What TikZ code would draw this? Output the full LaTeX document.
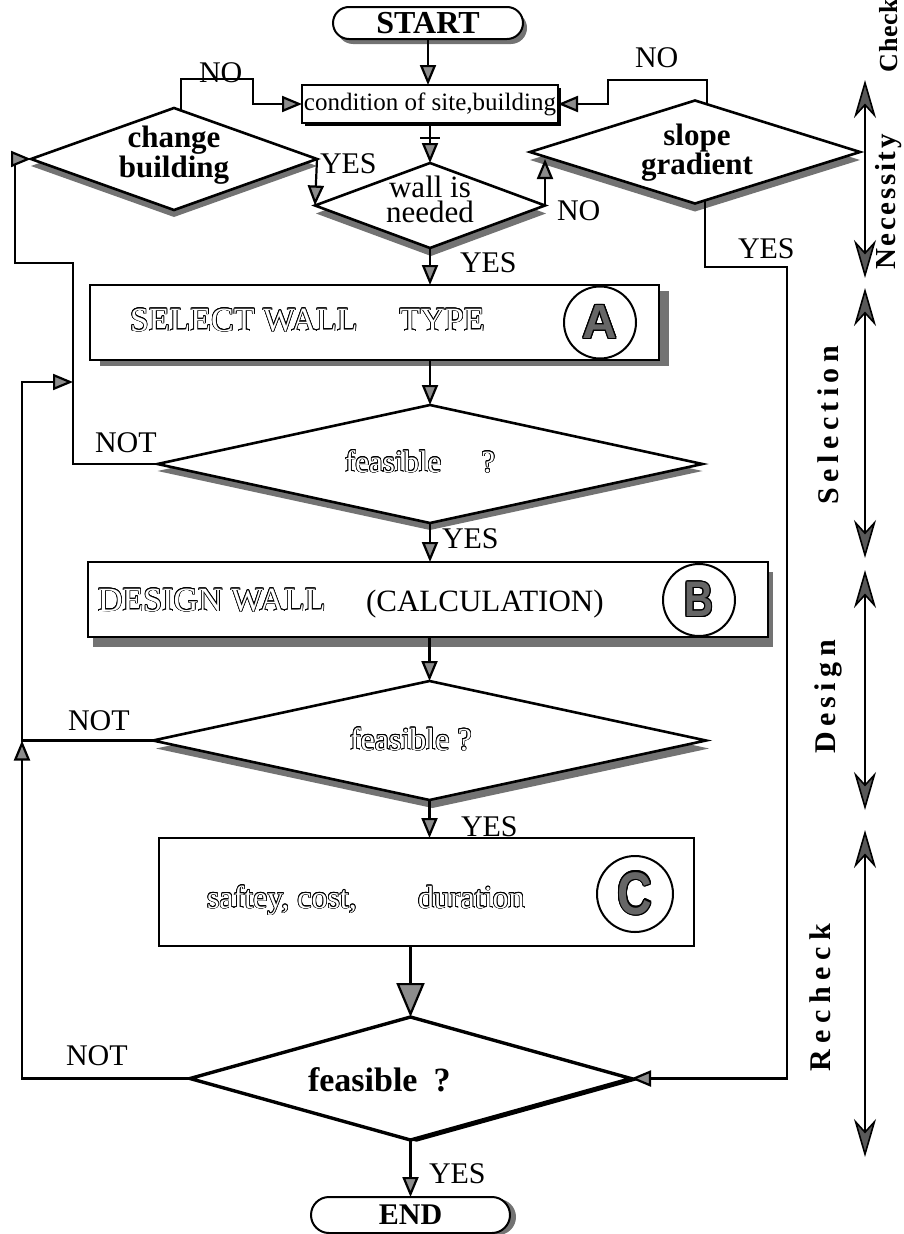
\documentclass[tikz,border=0pt]{standalone}
\usepackage{fontspec}
\usepackage{graphicx}
\usepackage{contour}
\setmainfont{Liberation Serif}
\newfontfamily\letterfont{Liberation Sans}
\newfontfamily\spreadS[LetterSpace=2]{Liberation Serif}
\newfontfamily\spreadM[LetterSpace=9]{Liberation Serif}
\newfontfamily\spreadL[LetterSpace=18]{Liberation Serif}
\newfontfamily\spreadXL[LetterSpace=22]{Liberation Serif}
\usetikzlibrary{shapes.geometric,shapes.misc,arrows.meta,shadows}
\colorlet{grayS}{black!55}
% white letters with a black outline
\newcommand{\hollow}[1]{{\contourlength{0.7pt}\color{white}\contour{black}{#1}}}
% heavy sans letter for the circled marks
\newcommand{\circletter}[2]{{\letterfont\bfseries\fontsize{#1}{#1}\selectfont\contourlength{1.3pt}\color{black!60}\contour{black}{#2}}}
\newcommand{\lblfont}{\fontsize{30}{30}\selectfont}
\begin{document}
\begin{tikzpicture}[x=1pt,y=-1pt,
  every node/.style={inner sep=0pt,outer sep=0pt},
  conn/.style={line width=2.2pt},
  arr/.style={conn,-{Triangle[length=20pt,width=16pt,fill=black!45]}},
  bigarr/.style={conn,-{Triangle[length=34pt,width=28pt,fill=black!45]}},
  sidearr/.style={line width=1.6pt,<->,>={Stealth[length=38pt,width=22pt,inset=12pt,fill=black!65]}},
  dshadow/.style n args={3}{drop shadow={shadow xshift=#1pt,shadow yshift=#2pt,fill=#3,opacity=1}},
  dia/.style={diamond,draw,fill=white,line width=2.6pt},
  boxn/.style={draw,fill=white,line width=2.4pt},
  capsule/.style={rounded rectangle,draw,fill=white,line width=2pt},
  circ/.style={circle,draw,line width=2pt,minimum size=72pt},
  lbl/.style={anchor=base west,font=\lblfont},
]
\useasboundingbox (0,0) rectangle (903,1234);

% ---------- necessity check ----------
\node[capsule,minimum width=190pt,minimum height=32pt,dshadow={4}{-5}{grayS},
      font=\bfseries\fontsize{32}{32}\selectfont] (startN) at (428,23) {START};
\node[boxn,line width=2pt,minimum width=256pt,minimum height=38pt,dshadow={2.5}{-2.5}{black},
      font=\fontsize{25}{25}\selectfont] (cond) at (430,104) {condition of site,building};

\node[dia,minimum width=286pt,minimum height=102pt,dshadow={0}{-7}{grayS}] (change) at (174,159) {};
\node[font=\bfseries\fontsize{31}{27}\selectfont,align=center] (changeT) at (174,155) {change\\building};

\node[dia,minimum width=230pt,minimum height=85pt,dshadow={1}{-8}{grayS}] (wall) at (430,205.5) {};
\node[font=\fontsize{31}{25}\selectfont,align=center] (wallT) at (430,199.5) {wall is\\needed};

\node[dia,minimum width=330pt,minimum height=103pt,dshadow={0}{-8}{grayS}] (slope) at (695,152) {};
\node[font=\bfseries\fontsize{31}{27}\selectfont,align=center] (slopeT) at (697,153) {slope\\gradient};

% ---------- selection ----------
\node[boxn,minimum width=569pt,minimum height=75pt,dshadow={10}{-6}{grayS}] (select) at (374.5,322.5) {};
\node[anchor=base west,font=\fontsize{34}{34}\selectfont] (selT) at (130,331)
  {\hollow{SELECT WALL}\hspace{42pt}\hollow{TYPE}};
\node[circ] (circA) at (600,322.5) {\circletter{48}{A}};

\node[dia,minimum width=545pt,minimum height=118pt,dshadow={0}{-7}{grayS}] (feasA) at (430,464) {};
\node[anchor=base west,font=\fontsize{31}{31}\selectfont] (feasAT) at (345,472)
  {\hollow{feasible}\hspace{40pt}\hollow{?}};

% ---------- design ----------
\node[boxn,minimum width=680pt,minimum height=75pt,dshadow={5}{-10}{grayS}] (design) at (428,599.5) {};
\node[anchor=base west,font=\fontsize{34}{34}\selectfont] (desT1) at (98,611) {\hollow{DESIGN WALL}};
\node[anchor=base west,font=\fontsize{31}{31}\selectfont] (desT2) at (366,611) {(CALCULATION)};
\node[circ] (circB) at (699,600) {\scalebox{0.8}[1]{\circletter{50}{B}}};

\node[dia,minimum width=553pt,minimum height=119pt,dshadow={3}{-8}{grayS}] (feasB) at (429.5,740.5) {};
\node[anchor=base west,font=\fontsize{32}{32}\selectfont] (feasBT) at (350,750) {\hollow{feasible ?}};

% ---------- recheck ----------
\node[boxn,minimum width=535pt,minimum height=108pt] (cbox) at (426.5,892) {};
\node[anchor=base west,font=\fontsize{32}{32}\selectfont] (cT1) at (207,908) {\hollow{saftey, cost,}};
\node[anchor=base west,font=\fontsize{32}{32}\selectfont] (cT2) at (418,908) {\hollow{duration}};
\node[circ,minimum size=76pt] (circC) at (635,894) {\scalebox{0.8}[1]{\circletter{60}{C}}};

\node[dia,line width=3.4pt,minimum width=441pt,minimum height=123pt,dshadow={6}{-1.7}{black}] (feasC) at (410.5,1078.5) {};
\node[anchor=base west,font=\bfseries\fontsize{34}{34}\selectfont] (feasCT) at (308,1091) {feasible\hspace{16pt}?};

\node[capsule,minimum width=199pt,minimum height=36pt,dshadow={6}{-2}{grayS},
      font=\bfseries\fontsize{30}{30}\selectfont] (finishN) at (410.5,1215) {END};

% ---------- connectors ----------
\coordinate (cNoL) at (253,79);
\coordinate (cNoR) at (608,80);
\coordinate (cYesR) at (787,267);
\coordinate (kA) at (73,263);
\coordinate (kB) at (15,159);
\coordinate (jB) at (22,740.5);
\coordinate (jA) at (22,382);
\coordinate (jT) at (73,382);

\draw[arr] (startN.south) -- (startN.south |- cond.north);
\path (cond.south -| wall.north) -- coordinate[pos=0.38] (tick) (wall.north);
\draw[arr] (cond.south -| wall.north) -- (wall.north);
\draw[conn] ([xshift=-10pt]tick) -- ([xshift=10pt]tick);

\draw[arr] ([xshift=7pt,yshift=-2.5pt]change.north) |- (cNoL) |- (cond.west);
\draw[arr] ([xshift=12pt,yshift=-3.7pt]slope.north) |- (cNoR) |- (cond.east);
\draw[arr] (change.east) -- (wall.west);
\draw[arr,shorten >=7pt] (wall.east) -- (wall.east |- slope.west);
\draw[arr] (wall.south) -- (wall.south |- select.north);
\draw[arr] ([xshift=10pt,yshift=3.1pt]slope.south) |- (cYesR) |- (feasC.east);

\draw[arr] (feasA.north |- select.south) -- (feasA.north);
\draw[arr] (feasA.west) -| (kA) -| (kB) -- (change.west);
\draw[arr] (feasA.south) -- (feasA.south |- design.north);
\draw[arr] (feasB.north |- design.south) -- (feasB.north);
\draw[arr] (feasB.west) -- (jB) -- (jA) -- (jT);
\draw[arr] (feasC.west) -| (jB);
\draw[arr] (feasB.south) -- (feasB.south |- cbox.north);
\draw[bigarr] (feasC.north |- cbox.south) -- (feasC.north);
\draw[arr] (feasC.south) -- (feasC.south |- finishN.north);

% ---------- branch labels ----------
\node[lbl] (tNoL) at (199,82) {NO};
\node[lbl] (tNoR) at (635,67) {NO};
\node[lbl] (tYesC) at (320,173) {YES};
\node[lbl] (tNoW) at (557,220) {NO};
\node[lbl] (tYesW) at (460,272) {YES};
\node[lbl] (tYesS) at (738,258) {YES};
\node[lbl] (tNotA) at (95,452) {NOT};
\node[lbl] (tYesA) at (442,548) {YES};
\node[lbl] (tNotB) at (68,730) {NOT};
\node[lbl] (tYesB) at (461,836) {YES};
\node[lbl] (tNotC) at (66,1065) {NOT};
\node[lbl] (tYesC2) at (429,1183) {YES};

% ---------- stage brackets ----------
\coordinate (b1t) at (865,80);   \coordinate (b1b) at (865,278);
\coordinate (b2t) at (865,288);  \coordinate (b2b) at (865,558);
\coordinate (b3t) at (865,570);  \coordinate (b3b) at (865,810);
\coordinate (b4t) at (865,830);  \coordinate (b4b) at (865,1157);
\draw[sidearr] (b1t) -- (b1b);
\draw[sidearr] (b2t) -- (b2b);
\draw[sidearr] (b3t) -- (b3b);
\draw[sidearr] (b4t) -- (b4b);

\node[rotate=90,anchor=base west,font=\spreadS\bfseries\fontsize{26}{26}\selectfont] (lCheck) at (897,72) {Check};
\node[rotate=90,anchor=base,font=\spreadM\bfseries\fontsize{29}{29}\selectfont] (lNec) at (895,202) {Necessity};
\node[rotate=90,anchor=base,font=\spreadL\bfseries\fontsize{30}{30}\selectfont] (lSel) at (838,425) {Selection};
\node[rotate=90,anchor=base,font=\spreadL\bfseries\fontsize{30}{30}\selectfont] (lDes) at (835,697) {Design};
\node[rotate=90,anchor=base,font=\spreadXL\bfseries\fontsize{30}{30}\selectfont] (lRec) at (830,998) {Recheck};
\end{tikzpicture}
\end{document}
